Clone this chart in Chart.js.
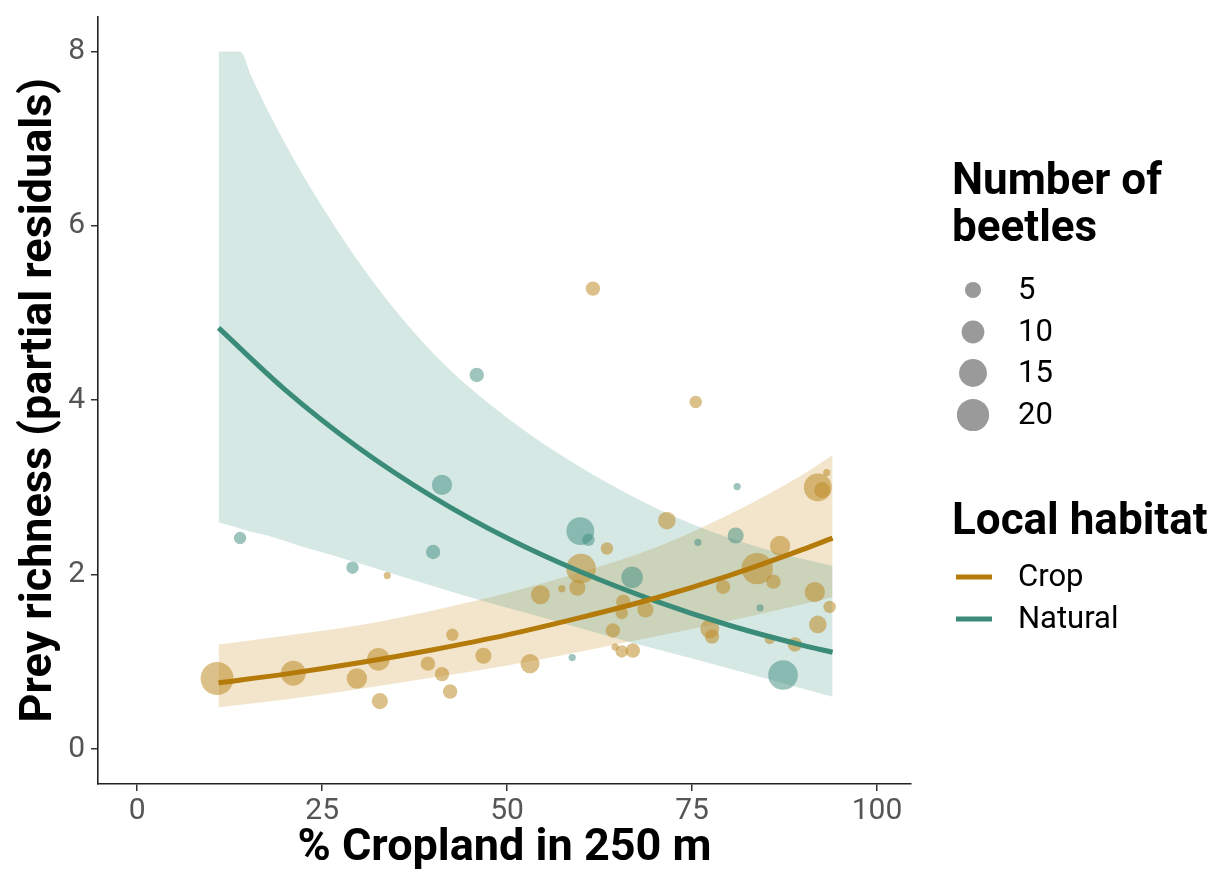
<!DOCTYPE html>
<html>
<head>
<meta charset="utf-8">
<script src="https://cdn.jsdelivr.net/npm/chart.js@4.4.1/dist/chart.umd.min.js"></script>
<style>
  html, body { margin: 0; padding: 0; background: #fff; }
  #wrap { width: 1216px; height: 875px; position: relative; }
</style>
</head>
<body>
<div id="wrap"><canvas id="chart" width="1216" height="875"></canvas></div>
<script>
// axis ticks
const x_ticks = [0, 25, 50, 75, 100]
const y_ticks = [0, 2, 4, 6, 8]

// fitted curves
const fit_x = [11, 20, 30, 40, 50, 60, 70, 80, 90, 94]
const crop_fit = [0.76, 0.86, 0.99, 1.14, 1.31, 1.51, 1.73, 1.99, 2.29, 2.42]
const natural_fit = [4.83, 4.12, 3.45, 2.89, 2.42, 2.03, 1.70, 1.42, 1.19, 1.11]

// confidence bands
const crop_lower = [0.48, 0.57, 0.69, 0.82, 0.96, 1.12, 1.29, 1.47, 1.66, 1.74]
const crop_upper = [1.20, 1.30, 1.42, 1.59, 1.79, 2.03, 2.31, 2.69, 3.15, 3.37]
const natural_band_x = [11, 13.9, 15.5, 17.6, 22, 26.5, 30, 35, 40, 45, 50, 56, 66, 75, 85, 94]
const natural_upper = [8, 8, 7.70, 7.33, 6.64, 6.02, 5.58, 5.02, 4.54, 4.14, 3.80, 3.44, 2.94, 2.58, 2.29, 2.10]
const natural_lower = [2.60, 2.53, 2.49, 2.45, 2.33, 2.22, 2.13, 2.00, 1.87, 1.74, 1.62, 1.48, 1.24, 1.04, 0.81, 0.60]

// partial residuals, crop sites
const crop_x = [10.8, 21.1, 29.7, 32.6, 32.8, 33.8, 39.3, 41.2, 42.3, 42.6, 46.8, 53.1, 54.5, 57.4, 59.5,
    60.0, 61.6, 63.5, 64.3, 64.6, 65.5, 67.0, 65.7, 65.5, 68.7, 71.6, 75.5, 77.4, 77.7, 79.2,
    83.8, 86.0, 86.9, 85.5, 88.9, 91.6, 92.0, 93.6, 92.0, 92.6, 93.2]
const crop_y = [0.81, 0.87, 0.81, 1.03, 0.55, 1.99, 0.98, 0.86, 0.66, 1.31, 1.07, 0.98, 1.77, 1.84, 1.85,
    2.07, 5.28, 2.30, 1.36, 1.17, 1.12, 1.13, 1.69, 1.56, 1.60, 2.62, 3.98, 1.38, 1.29, 1.86,
    2.07, 1.92, 2.33, 1.26, 1.20, 1.80, 1.43, 1.63, 3.00, 2.97, 3.17]
const crop_beetles = [21, 12, 8, 10, 5, 1, 4, 4, 4, 3, 5, 7, 7, 1, 5,
    17, 4, 3, 4, 1, 3, 4, 4, 3, 5, 6, 3, 7, 4, 4,
    19, 4, 8, 2, 4, 8, 6, 3, 15, 5, 1]

// partial residuals, natural sites
const natural_x = [13.9, 29.1, 40.0, 41.2, 45.9, 58.8, 59.9, 61.0, 66.9, 75.8, 80.9, 81.1, 84.2, 87.3]
const natural_y = [2.42, 2.08, 2.26, 3.03, 4.29, 1.05, 2.50, 2.40, 1.97, 2.37, 2.45, 3.01, 1.62, 0.85]
const natural_beetles = [3, 3, 4, 8, 4, 1, 15, 3, 9, 1, 5, 1, 1, 17]

// size legend
const size_breaks = [5, 10, 15, 20]

const crop_line_color = '#b47a0a'
const natural_line_color = '#3a8c78'
const crop_band_color = 'rgba(205, 150, 50, 0.25)'
const natural_band_color = 'rgba(50, 140, 120, 0.2)'
const crop_point_color = 'rgba(190, 140, 40, 0.55)'
const natural_point_color = 'rgba(60, 140, 125, 0.5)'
const font_family = 'Roboto, "Noto Sans", sans-serif'

function size_radius(n) {
    return 3.6 * Math.sqrt(n)
}

function to_points(xs, ys) {
    return xs.map((x, i) => ({x: x, y: ys[i]}))
}

function band_edge(xs, ys, order, fill, color) {
    return {
        type: 'line',
        data: to_points(xs, ys),
        showLine: true,
        borderWidth: 0,
        borderColor: 'rgba(0,0,0,0)',
        pointRadius: 0,
        fill: fill,
        backgroundColor: color,
        cubicInterpolationMode: 'monotone',
        order: order
    }
}

const legend_plugin = {
    id: 'beetle_legend',
    afterDraw(chart) {
        const ctx = chart.ctx
        ctx.save()
        ctx.fillStyle = '#000'
        ctx.textAlign = 'left'
        ctx.textBaseline = 'alphabetic'
        ctx.font = `bold 44px ${font_family}`
        ctx.fillText('Number of', 952, 194)
        ctx.fillText('beetles', 952, 241)

        const size_rows = [290, 332, 373, 415]
        for (let i = 0; i < size_breaks.length; i ++) {
            ctx.beginPath()
            ctx.fillStyle = '#9a9a9a'
            ctx.arc(973, size_rows[i], size_radius(size_breaks[i]), 0, Math.PI * 2)
            ctx.fill()
            ctx.fillStyle = '#000'
            ctx.font = `31px ${font_family}`
            ctx.textBaseline = 'middle'
            ctx.fillText(String(size_breaks[i]), 1018, size_rows[i] + 1)
        }

        ctx.textBaseline = 'alphabetic'
        ctx.font = `bold 44px ${font_family}`
        ctx.fillText('Local habitat', 952, 534)

        const habitat_rows = [['Crop', crop_line_color, 577], ['Natural', natural_line_color, 619]]
        for (let i = 0; i < habitat_rows.length; i ++) {
            ctx.strokeStyle = habitat_rows[i][1]
            ctx.lineWidth = 5
            ctx.beginPath()
            ctx.moveTo(956, habitat_rows[i][2])
            ctx.lineTo(992, habitat_rows[i][2])
            ctx.stroke()
            ctx.fillStyle = '#000'
            ctx.font = `31px ${font_family}`
            ctx.textBaseline = 'middle'
            ctx.fillText(habitat_rows[i][0], 1018, habitat_rows[i][2] + 1)
        }
        ctx.restore()
    }
}

const x_tick_font = {family: font_family, size: 30}
const y_tick_font = {family: font_family, size: 30, lineHeight: 0.8}
const title_font = {family: font_family, size: 45, weight: 'bold', lineHeight: 1.1}

new Chart(document.getElementById('chart'), {
    type: 'scatter',
    data: {
        datasets: [
            band_edge(fit_x, crop_lower, 3, false, crop_band_color),
            band_edge(fit_x, crop_upper, 3, '-1', crop_band_color),
            band_edge(natural_band_x, natural_lower, 2, false, natural_band_color),
            band_edge(natural_band_x, natural_upper, 2, '-1', natural_band_color),
            {
                type: 'scatter',
                data: to_points(crop_x, crop_y),
                backgroundColor: crop_point_color,
                borderWidth: 0,
                pointRadius: ctx => size_radius(crop_beetles[ctx.dataIndex]),
                order: 1
            },
            {
                type: 'scatter',
                data: to_points(natural_x, natural_y),
                backgroundColor: natural_point_color,
                borderWidth: 0,
                pointRadius: ctx => size_radius(natural_beetles[ctx.dataIndex]),
                order: 1
            },
            {
                type: 'line',
                data: to_points(fit_x, crop_fit),
                showLine: true,
                borderColor: crop_line_color,
                borderWidth: 5,
                pointRadius: 0,
                fill: false,
                cubicInterpolationMode: 'monotone',
                order: 0
            },
            {
                type: 'line',
                data: to_points(fit_x, natural_fit),
                showLine: true,
                borderColor: natural_line_color,
                borderWidth: 5,
                pointRadius: 0,
                fill: false,
                cubicInterpolationMode: 'monotone',
                order: 0
            }
        ]
    },
    options: {
        responsive: false,
        animation: false,
        events: [],
        layout: {padding: {left: 0, right: 305, top: 8, bottom: 0}},
        plugins: {legend: {display: false}, tooltip: {enabled: false}},
        scales: {
            x: {
                type: 'linear',
                min: -5.3,
                max: 104.6,
                afterBuildTicks: scale => { scale.ticks = x_ticks.map(v => ({value: v})) },
                afterFit: scale => {
                    scale.height = 91
                    scale.paddingLeft = 0
                    scale.paddingRight = 0
                },
                border: {display: true, color: '#222', width: 1.6},
                grid: {drawOnChartArea: false, drawTicks: true, tickLength: 7, color: '#333', lineWidth: 1.5},
                ticks: {font: x_tick_font, color: '#555', padding: 2, maxRotation: 0, autoSkip: false},
                title: {display: true, text: '% Cropland in 250 m', font: title_font, color: '#000', padding: {top: 0, bottom: 2}}
            },
            y: {
                type: 'linear',
                min: -0.4,
                max: 8.4,
                afterBuildTicks: scale => { scale.ticks = y_ticks.map(v => ({value: v})) },
                afterFit: scale => {
                    scale.width = 98
                    scale.paddingTop = 0
                    scale.paddingBottom = 0
                },
                border: {display: true, color: '#222', width: 1.6},
                grid: {drawOnChartArea: false, drawTicks: true, tickLength: 7, color: '#333', lineWidth: 1.5},
                ticks: {font: y_tick_font, color: '#555', padding: 6, autoSkip: false},
                title: {display: true, text: 'Prey richness (partial residuals)', font: title_font, color: '#000', padding: {top: 15, bottom: 0}}
            }
        }
    },
    plugins: [legend_plugin]
})
</script>
</body>
</html>
